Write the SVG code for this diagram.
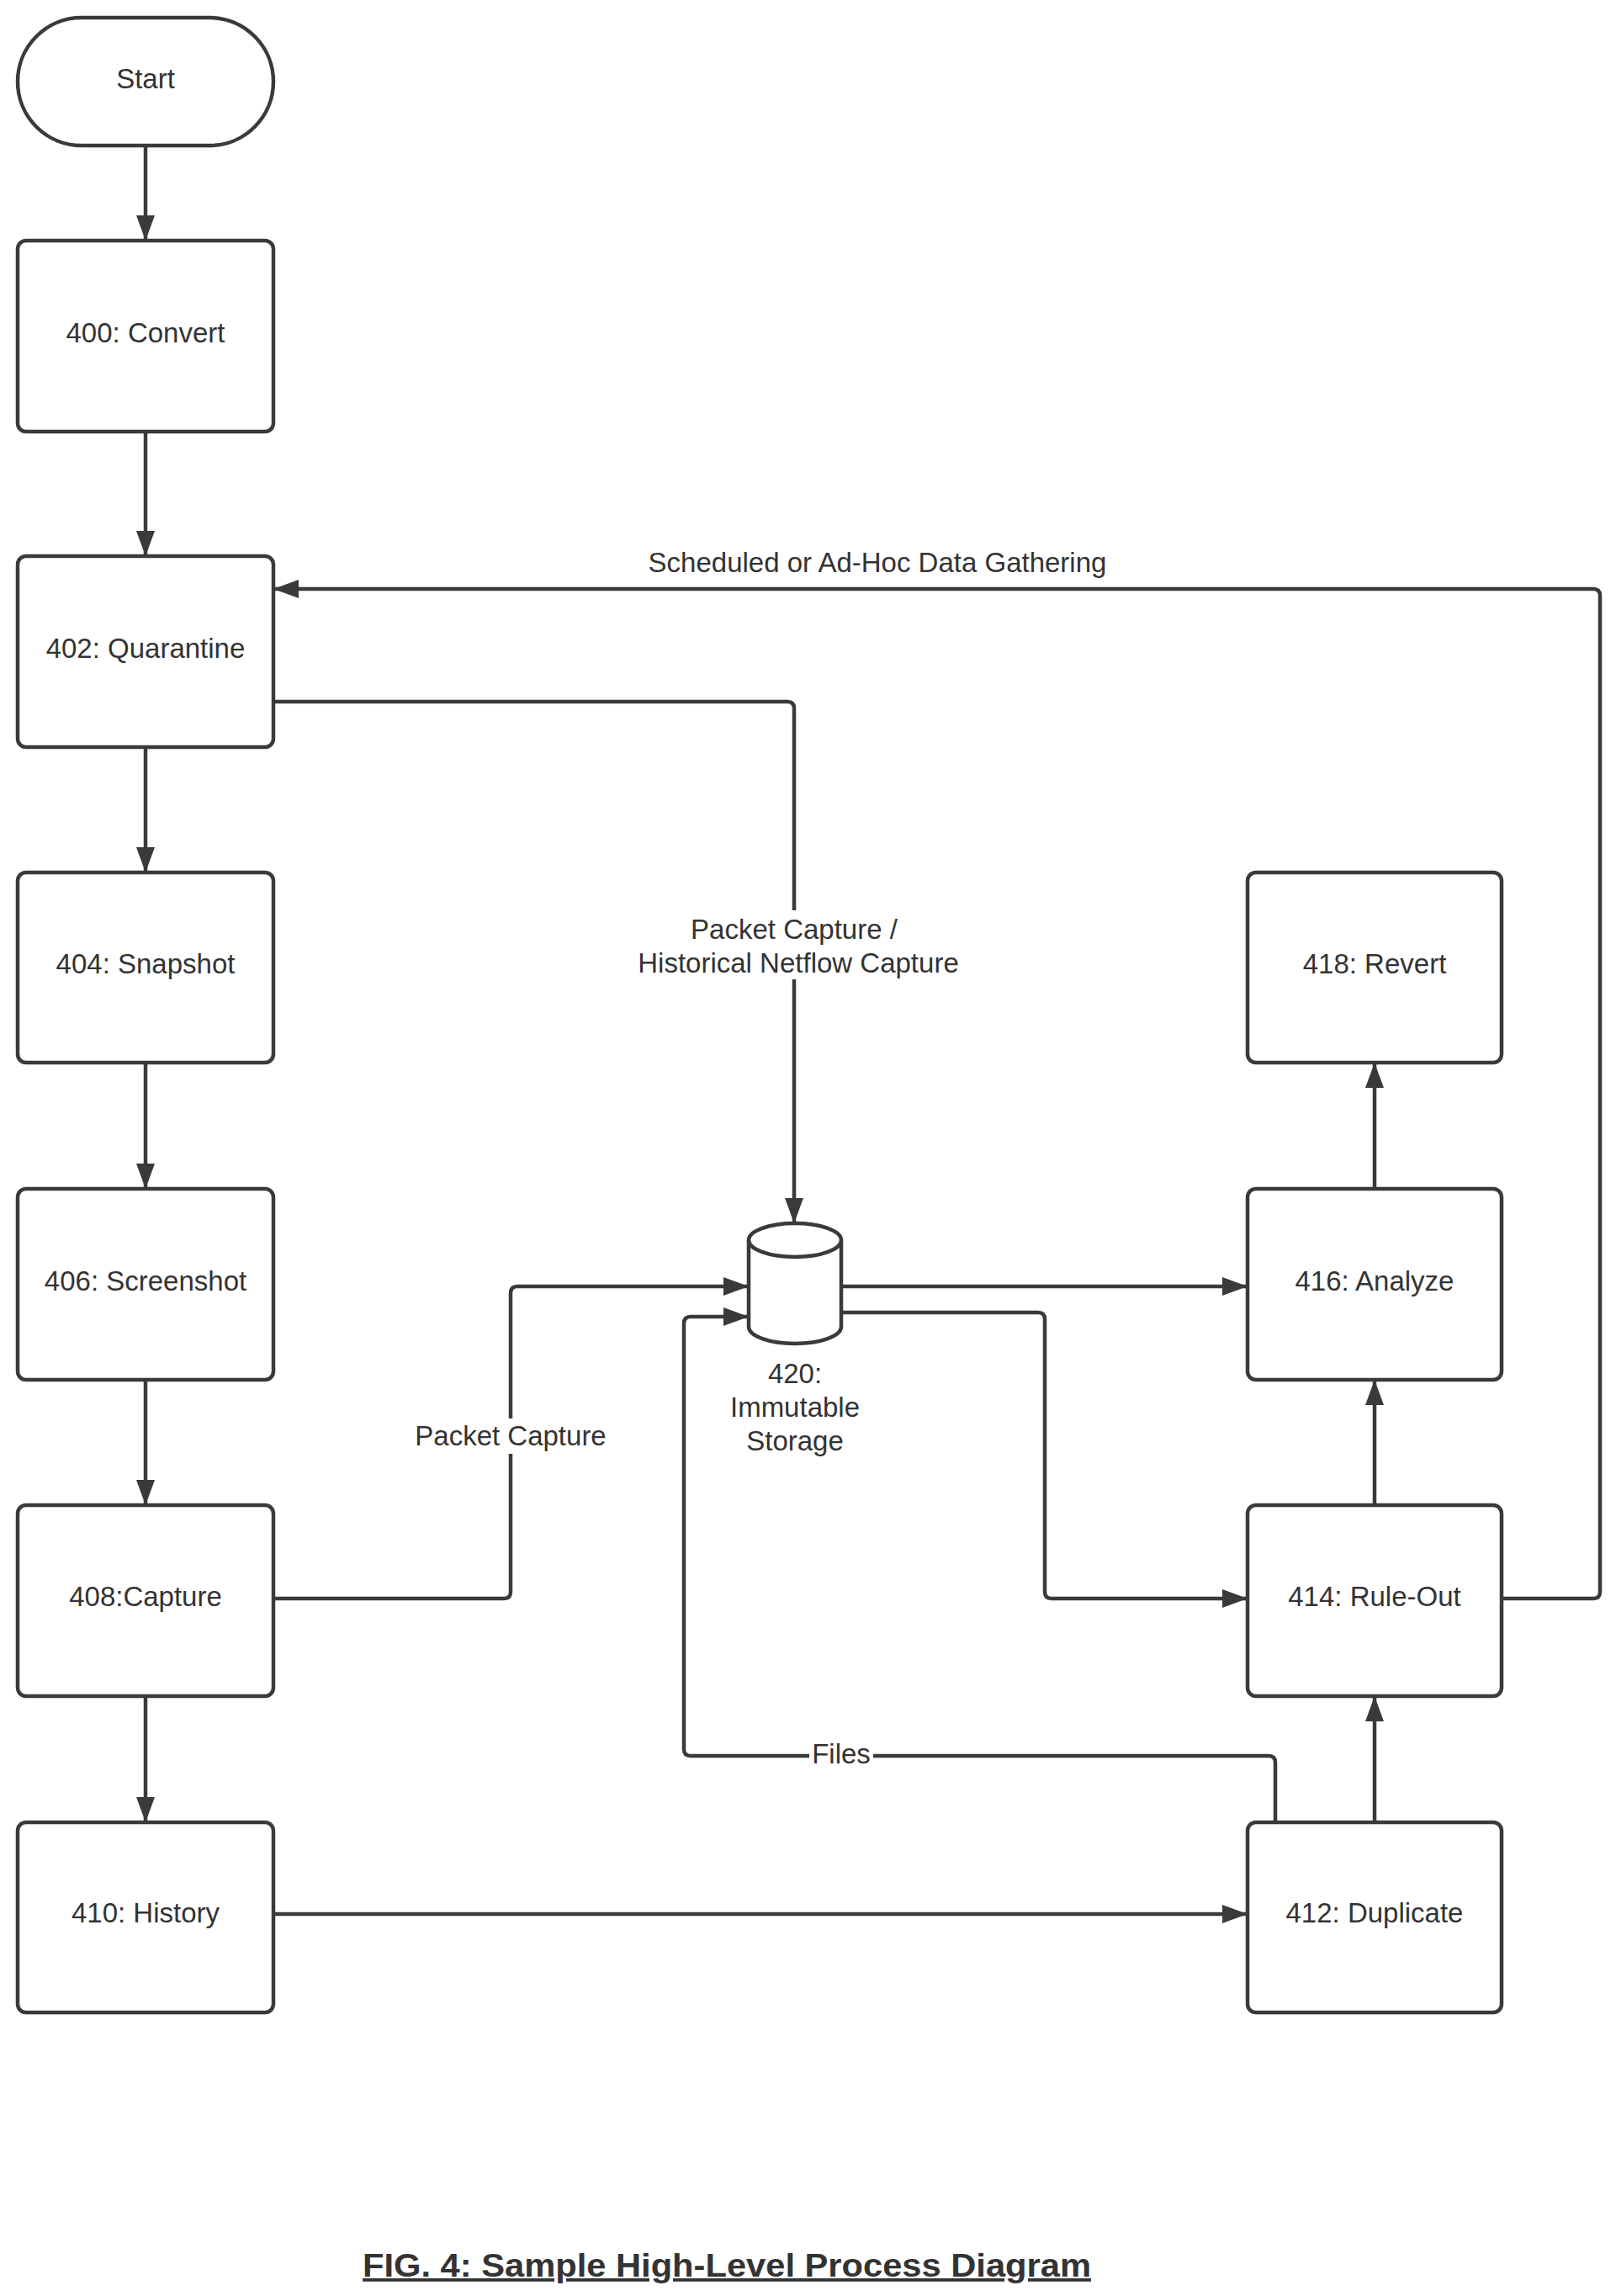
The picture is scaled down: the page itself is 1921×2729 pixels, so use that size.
<svg xmlns="http://www.w3.org/2000/svg" width="1921" height="2729" viewBox="0 0 1921 2729">
<style>
.n{fill:#fff;stroke:#3a3a3a;stroke-width:4.5}
.t{font-family:"Liberation Sans",Arial,sans-serif;font-size:33px;fill:#333;text-anchor:middle}
.c{fill:none;stroke:#3a3a3a;stroke-width:4.5;stroke-linejoin:round;marker-end:url(#a)}
.lb{fill:#fff}
</style>
<defs>
<marker id="a" markerUnits="userSpaceOnUse" markerWidth="30" markerHeight="30" viewBox="0 0 30 30" refX="28" refY="15" orient="auto">
<path d="M0,4 L30,15 L0,26 Z" fill="#3a3a3a"/>
</marker>
</defs>
<rect width="1921" height="2729" fill="#fff"/>
<g id="connectors">
<path class="c" d="M173,173 V284"/>
<path class="c" d="M173,513 V659"/>
<path class="c" d="M173,888 V1035"/>
<path class="c" d="M173,1263 V1411"/>
<path class="c" d="M173,1640 V1787"/>
<path class="c" d="M173,2016 V2164"/>
<path class="c" d="M325,2275 H1481"/>
<path class="c" d="M1634,2166 V2018"/>
<path class="c" d="M1634,1789 V1642"/>
<path class="c" d="M1634,1413 V1265"/>
<path class="c" d="M1785,1900 H1894 Q1902,1900 1902,1892 V708 Q1902,700 1894,700 H327"/>
<path class="c" d="M325,834 H936 Q944,834 944,842 V1452"/>
<path class="c" d="M325,1900 H599 Q607,1900 607,1892 V1537 Q607,1529 615,1529 H888"/>
<path class="c" d="M1000,1529 H1481"/>
<path class="c" d="M1000,1560 H1234 Q1242,1560 1242,1568 V1892 Q1242,1900 1250,1900 H1481"/>
<path class="c" d="M1516,2166 V2095 Q1516,2087 1508,2087 H821 Q813,2087 813,2079 V1573 Q813,1565 821,1565 H888"/>
<rect class="lb" x="477" y="1686" width="260" height="42"/>
<text class="t" x="607" y="1718">Packet Capture</text>
<rect class="lb" x="962" y="2068" width="76" height="36"/>
<text class="t" x="1000" y="2096">Files</text>
<rect class="lb" x="740" y="1082" width="420" height="82"/>
<text class="t" x="944" y="1116">Packet Capture /</text>
<text class="t" x="949" y="1156">Historical Netflow Capture</text>
<text class="t" x="1043" y="680">Scheduled or Ad-Hoc Data Gathering</text>
</g>
<g id="start"><rect class="n" x="21" y="21" width="304" height="152" rx="76"/><text class="t" x="173" y="105">Start</text></g>
<g id="n400"><rect class="n" x="21" y="286" width="304" height="227" rx="10"/><text class="t" x="173" y="407">400: Convert</text></g>
<g id="n402"><rect class="n" x="21" y="661" width="304" height="227" rx="10"/><text class="t" x="173" y="782">402: Quarantine</text></g>
<g id="n404"><rect class="n" x="21" y="1037" width="304" height="226" rx="10"/><text class="t" x="173" y="1157">404: Snapshot</text></g>
<g id="n406"><rect class="n" x="21" y="1413" width="304" height="227" rx="10"/><text class="t" x="173" y="1534">406: Screenshot</text></g>
<g id="n408"><rect class="n" x="21" y="1789" width="304" height="227" rx="10"/><text class="t" x="173" y="1909">408:Capture</text></g>
<g id="n410"><rect class="n" x="21" y="2166" width="304" height="226" rx="10"/><text class="t" x="173" y="2285">410: History</text></g>
<g id="n418"><rect class="n" x="1483" y="1037" width="302" height="226" rx="10"/><text class="t" x="1634" y="1157">418: Revert</text></g>
<g id="n416"><rect class="n" x="1483" y="1413" width="302" height="227" rx="10"/><text class="t" x="1634" y="1534">416: Analyze</text></g>
<g id="n414"><rect class="n" x="1483" y="1789" width="302" height="227" rx="10"/><text class="t" x="1634" y="1909">414: Rule-Out</text></g>
<g id="n412"><rect class="n" x="1483" y="2166" width="302" height="226" rx="10"/><text class="t" x="1634" y="2285">412: Duplicate</text></g>
<g id="n420">
<path class="n" d="M890,1474 V1577 A55,20 0 0 0 1000,1577 V1474 A55,20 0 0 0 890,1474 Z"/>
<path class="n" d="M890,1474 A55,20 0 0 0 1000,1474" fill="none"/>
<text class="t" x="945" y="1644">420:</text>
<text class="t" x="945" y="1684">Immutable</text>
<text class="t" x="945" y="1724">Storage</text>
</g>
<g id="title">
<text x="864" y="2706" font-family="Liberation Sans,Arial,sans-serif" font-size="38" font-weight="bold" fill="#333" text-anchor="middle" text-decoration="underline" textLength="866" lengthAdjust="spacingAndGlyphs">FIG. 4: Sample High-Level Process Diagram</text>
</g>
</svg>
